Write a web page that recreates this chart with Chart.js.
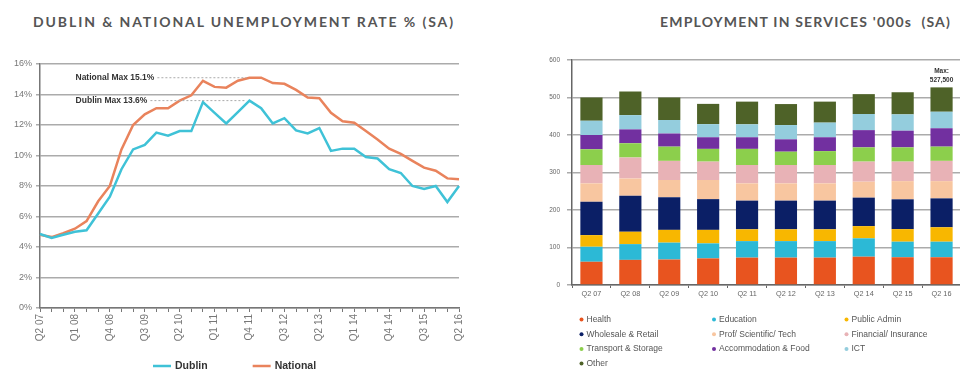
<!DOCTYPE html>
<html>
<head>
<meta charset="utf-8">
<script src="https://cdn.jsdelivr.net/npm/chart.js@4.4.1/dist/chart.umd.min.js"></script>
<style>
  html, body { margin:0; padding:0; background:#fff; }
  body { width:960px; height:372px; overflow:hidden; position:relative; }
  .title { position:absolute; top:13px; font-family:'Lato', sans-serif; font-weight:700; font-size:14px; color:#555; letter-spacing:1.9px; white-space:nowrap; }
  #wrap1 { position:absolute; left:0; top:0; width:480px; height:372px; }
  #wrap2 { position:absolute; left:480px; top:0; width:485px; height:372px; }
</style>
</head>
<body>
<div class="title" id="t1" style="left:33px;">DUBLIN &amp; NATIONAL UNEMPLOYMENT RATE % (SA)</div>
<div class="title" id="t2" style="left:660px;letter-spacing:1.2px;">EMPLOYMENT IN SERVICES '000s&nbsp; (SA)</div>
<div id="wrap1"><canvas id="c1" width="480" height="372"></canvas></div>
<div id="wrap2"><canvas id="c2" width="485" height="372"></canvas></div>
<script>
// ---------- Left chart data ----------
const quarters = ['Q2 07','Q3 07','Q4 07','Q1 08','Q2 08','Q3 08','Q4 08','Q1 09','Q2 09','Q3 09','Q4 09','Q1 10','Q2 10','Q3 10','Q4 10','Q1 11','Q2 11','Q3 11','Q4 11','Q1 12','Q2 12','Q3 12','Q4 12','Q1 13','Q2 13','Q3 13','Q4 13','Q1 14','Q2 14','Q3 14','Q4 14','Q1 15','Q2 15','Q3 15','Q4 15','Q1 16','Q2 16'];
const unempTickLabels = ['Q2 07','Q1 08','Q4 08','Q3 09','Q2 10','Q1 11','Q4 11','Q3 12','Q2 13','Q1 14','Q4 14','Q3 15','Q2 16'];
const dublinRate = [4.85,4.6,4.8,5.0,5.1,6.2,7.3,9.1,10.4,10.7,11.5,11.3,11.6,11.6,13.5,12.8,12.1,12.85,13.6,13.1,12.1,12.45,11.65,11.45,11.8,10.3,10.45,10.45,9.9,9.8,9.1,8.85,8.0,7.8,8.0,6.95,8.0];
const nationalRate = [4.8,4.65,4.9,5.2,5.7,7.0,8.0,10.4,12.0,12.7,13.1,13.1,13.6,13.95,14.9,14.5,14.45,14.9,15.1,15.1,14.75,14.7,14.3,13.8,13.75,12.8,12.25,12.15,11.6,11.05,10.45,10.1,9.65,9.2,9.0,8.5,8.45];
const nationalMax = 15.1;
const dublinMax = 13.6;
const rateTicks = [0,2,4,6,8,10,12,14,16];

// ---------- Right chart data ----------
const years = ['Q2 07','Q2 08','Q2 09','Q2 10','Q2 11','Q2 12','Q2 13','Q2 14','Q2 15','Q2 16'];
const sectors = ['Health','Education','Public Admin','Wholesale & Retail','Prof/ Scientific/ Tech','Financial/ Insurance','Transport & Storage','Accommodation & Food','ICT','Other'];
const health      = [62,67,68,71,73,73,73,75.5,74,74];
const education   = [40,42,45,40,44,44,44,49,41.5,41.5];
const publicAdmin = [31,33,34,36,31.5,31.5,31.5,32.5,33.5,38.5];
const wholesale   = [89,96,87,82,76.5,76.5,76.5,76,79.5,77];
const profTech    = [49,46,46,51,46,46,46,42.5,48.5,46];
const financial   = [49,56,51,49,49,49,49,53.5,52,54];
const transport   = [42,38,38,34,43,35.5,37,38,38,38];
const accomFood   = [38,37,35,31,31,33,37,46,44.5,49];
const ict         = [38,38,36,35,34.5,38,39,43,43.5,44];
const other       = [62,63,60,54,60.5,56,56,53,59,65];
const maxLabel = ['Max:','527,500'];
const empTicks = [0,100,200,300,400,500,600];

const sectorValues = [health, education, publicAdmin, wholesale, profTech, financial, transport, accomFood, ict, other];
const sectorColors = ['#e8541f','#2cb9d6','#f8b700','#0b1f66','#f8c6a0','#e8b2b6','#8ccf4c','#7230a0','#94cddd','#4e6228'];

// ---------- Left chart plugins ----------
const leftExtras = {
  id: 'leftExtras',
  afterDraw(chart) {
    const ctx = chart.ctx, xs = chart.scales.x, ys = chart.scales.y;
    ctx.save();
    // rotated x tick labels (bottom-to-top)
    ctx.font = '10px "Liberation Sans", Arial, sans-serif';
    ctx.fillStyle = '#777';
    ctx.textAlign = 'right';
    ctx.textBaseline = 'middle';
    unempTickLabels.forEach(lbl => {
      const i = quarters.indexOf(lbl);
      const x = xs.getPixelForValue(i);
      ctx.save();
      ctx.translate(x, xs.top + 6);
      ctx.rotate(-Math.PI / 2);
      ctx.fillText(lbl, 0, 0);
      ctx.restore();
    });
    // max annotations
    ctx.font = 'bold 8.5px "Liberation Sans", Arial, sans-serif';
    ctx.fillStyle = '#333';
    ctx.textAlign = 'right';
    const endX = xs.getPixelForValue(18);
    [[nationalMax, 'National Max ' + nationalMax + '%', 10], [dublinMax, 'Dublin Max ' + dublinMax + '%', 9.4]].forEach(([v, txt, idx]) => {
      const y = ys.getPixelForValue(v);
      const tx = xs.getPixelForValue(idx) - 2;
      ctx.fillText(txt, tx, y);
      ctx.strokeStyle = '#aaa';
      ctx.lineWidth = 1;
      ctx.setLineDash([2, 2]);
      ctx.beginPath();
      ctx.moveTo(tx + 3, y);
      ctx.lineTo(endX - 3, y);
      ctx.stroke();
    });
    ctx.setLineDash([]);
    // legend
    ctx.font = 'bold 10.5px "Liberation Sans", Arial, sans-serif';
    ctx.textAlign = 'left';
    ctx.textBaseline = 'middle';
    let lx = 153;
    const ly = 366;
    chart.data.datasets.forEach(ds => {
      ctx.strokeStyle = ds.borderColor;
      ctx.lineWidth = 2.5;
      ctx.beginPath();
      ctx.moveTo(lx, ly);
      ctx.lineTo(lx + 18, ly);
      ctx.stroke();
      ctx.fillStyle = '#333';
      ctx.fillText(ds.label, lx + 22, ly);
      lx += 22 + ctx.measureText(ds.label).width + 45;
    });
    ctx.restore();
  }
};

new Chart(document.getElementById('c1'), {
  type: 'line',
  data: {
    labels: quarters,
    datasets: [
      { label: 'Dublin', data: dublinRate, borderColor: '#3fc2d7', backgroundColor: '#3fc2d7', borderWidth: 2.5, pointRadius: 0, tension: 0 },
      { label: 'National', data: nationalRate, borderColor: '#e9835c', backgroundColor: '#e9835c', borderWidth: 2.5, pointRadius: 0, tension: 0 }
    ]
  },
  options: {
    responsive: false,
    devicePixelRatio: 1,
    animation: false,
    layout: { padding: { top: 64, right: 21, bottom: 0, left: 0 } },
    plugins: { legend: { display: false }, tooltip: { enabled: false } },
    scales: {
      x: {
        type: 'category',
        offset: false,
        ticks: { display: false, autoSkip: false },
        grid: { drawOnChartArea: false, tickLength: 4, color: '#777', lineWidth: 1 },
        border: { color: '#777', width: 1.5 },
        afterFit: s => { s.height = 64; }
      },
      y: {
        min: 0, max: 16,
        afterBuildTicks: s => { s.ticks = rateTicks.map(v => ({ value: v })); },
        ticks: { callback: v => v + '%', font: { size: 9, family: '"Liberation Sans", Arial, sans-serif' }, color: '#777', padding: 4 },
        grid: { color: '#ababab', lineWidth: 1.5, tickLength: 4 },
        border: { color: '#777', width: 1.5 },
        afterFit: s => { s.width = 40; }
      }
    }
  },
  plugins: [leftExtras]
});

// ---------- Right chart plugins ----------
const rightExtras = {
  id: 'rightExtras',
  afterDraw(chart) {
    const ctx = chart.ctx;
    ctx.save();
    // Max label above last bar
    const topMeta = chart.getDatasetMeta(chart.data.datasets.length - 1);
    const el = topMeta.data[topMeta.data.length - 1];
    ctx.font = 'bold 6.5px "Liberation Sans", Arial, sans-serif';
    ctx.fillStyle = '#333';
    ctx.textAlign = 'center';
    ctx.textBaseline = 'middle';
    ctx.fillText(maxLabel[0], el.x, el.y - 16);
    ctx.fillText(maxLabel[1], el.x, el.y - 7);
    // legend grid 3 columns
    ctx.font = '8.5px "Liberation Sans", Arial, sans-serif';
    ctx.textAlign = 'left';
    const x0 = chart.chartArea.left + 9.5;
    chart.data.datasets.forEach((ds, i) => {
      const col = i % 3, row = Math.floor(i / 3);
      const x = x0 + col * 132.5;
      const y = 319.5 + row * 14.7;
      ctx.fillStyle = ds.backgroundColor;
      ctx.beginPath();
      ctx.arc(x, y, 2, 0, Math.PI * 2);
      ctx.fill();
      ctx.fillStyle = '#555';
      ctx.fillText(ds.label, x + 5, y);
    });
    ctx.restore();
  }
};

new Chart(document.getElementById('c2'), {
  type: 'bar',
  data: {
    labels: years,
    datasets: sectors.map((s, i) => ({ label: s, data: sectorValues[i], backgroundColor: sectorColors[i], borderWidth: 0 }))
  },
  options: {
    responsive: false,
    devicePixelRatio: 1,
    animation: false,
    layout: { padding: { top: 60, right: 4, bottom: 0, left: 0 } },
    plugins: { legend: { display: false }, tooltip: { enabled: false } },
    datasets: { bar: { barPercentage: 0.57, categoryPercentage: 1 } },
    scales: {
      x: {
        stacked: true,
        ticks: { font: { size: 7.3, family: '"Liberation Sans", Arial, sans-serif' }, color: '#666', padding: 2, maxRotation: 0 },
        grid: { drawOnChartArea: false, tickLength: 3, color: '#666' },
        border: { color: '#666', width: 1.5 },
        afterFit: s => { s.height = 87; }
      },
      y: {
        stacked: true,
        min: 0, max: 600,
        afterBuildTicks: s => { s.ticks = empTicks.map(v => ({ value: v })); },
        ticks: { font: { size: 6.5, family: '"Liberation Sans", Arial, sans-serif' }, color: '#666', padding: 7 },
        grid: { color: '#ababab', lineWidth: 1.5, tickLength: 5 },
        border: { color: '#666', width: 1.5 },
        afterFit: s => { s.width = 92; }
      }
    }
  },
  plugins: [rightExtras]
});
</script>
</body>
</html>
